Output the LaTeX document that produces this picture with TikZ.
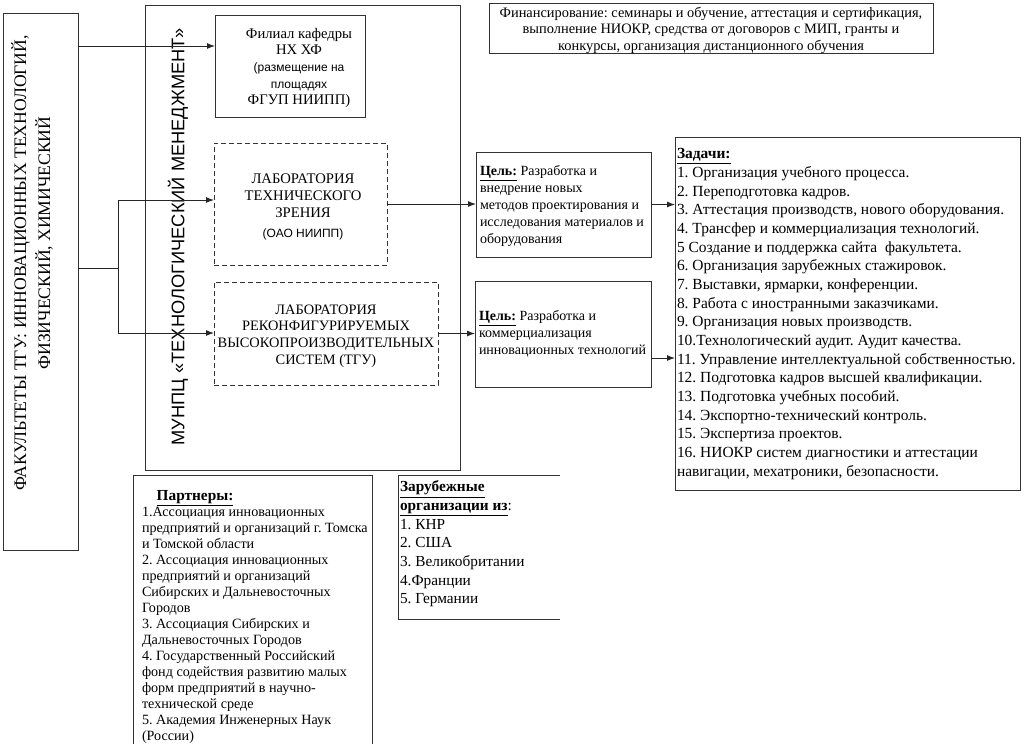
\documentclass[tikz,border=0pt]{standalone}
\usepackage{fontspec}
\setmainfont{Liberation Serif}
\setsansfont{Liberation Sans}
\usetikzlibrary{arrows.meta}
\tikzset{
  every node/.style={inner sep=0pt, outer sep=0pt},
  bx/.style={draw=black!80, line width=0.75pt},
  sz/.style 2 args={minimum width={#1*0.75pt}, minimum height={#2*0.75pt}},
  dsh/.style={dash pattern=on 3.5pt off 2.5pt},
  ln/.style={draw=black!85, line width=0.75pt},
  arr/.style={ln, -{Latex[length=6pt,width=4.5pt]}},
}
\begin{document}
\frenchspacing
\begin{tikzpicture}[x=0.75pt,y=-0.75pt]
\useasboundingbox (0,0) rectangle (1024,743);
\fill[white] (0,0) rectangle (1024,743);

% boxes
\node[bx, sz={75}{537}, anchor=north west] (fac) at (3,13) {};
\node[bx, sz={315}{465}, anchor=north west] (mun) at (145,5) {};
\node[bx, sz={150}{102}, anchor=north west] (filial) at (215,15) {};
\node[bx, dsh, sz={173}{122}, anchor=north west] (lab1) at (214,143) {};
\node[bx, dsh, sz={224}{103}, anchor=north west] (lab2) at (214,282) {};
\node[bx, sz={444}{50}, anchor=north west] (fin) at (489,3) {};
\node[bx, sz={175}{105}, anchor=north west] (goal1) at (476,152) {};
\node[bx, sz={176}{106}, anchor=north west] (goal2) at (475,281) {};
\node[bx, sz={345}{353}, anchor=north west] (tasks) at (675,137) {};
\node[bx, sz={239}{269}, anchor=north west] (partners) at (133,475) {};
\draw[bx] (560,475) -- (398,475) -- (398,619) -- (560,619);

% texts
\node[rotate=90, align=center, font=\fontsize{13.2}{18}\selectfont] (factxt) at (32,263)
  {ФАКУЛЬТЕТЫ ТГУ: ИННОВАЦИОННЫХ ТЕХНОЛОГИЙ,\\\hspace*{30pt}ФИЗИЧЕСКИЙ, ХИМИЧЕСКИЙ};
\node[rotate=90, font=\sffamily\fontsize{13.7}{16}\selectfont] (muntxt) at (178,237)
  {МУНПЦ «ТЕХНОЛОГИЧЕСКИЙ МЕНЕДЖМЕНТ»};
\node[align=center, font=\fontsize{11}{12.5}\selectfont] (filtxt) at (299,68)
  {Филиал кафедры\\НХ ХФ\\{\sffamily\fontsize{9}{12.5}\selectfont (размещение на}\\{\sffamily\fontsize{9}{12.5}\selectfont площадях}\\ФГУП НИИПП)};
\node[align=center, font=\fontsize{11}{12.75}\selectfont] (lab1txt) at (303,207)
  {ЛАБОРАТОРИЯ\\ТЕХНИЧЕСКОГО\\ЗРЕНИЯ\\[2pt]{\sffamily\fontsize{9}{11}\selectfont (ОАО НИИПП)}};
\node[align=center, font=\fontsize{10.8}{12.5}\selectfont] (lab2txt) at (326,336)
  {ЛАБОРАТОРИЯ\\РЕКОНФИГУРИРУЕМЫХ\\ВЫСОКОПРОИЗВОДИТЕЛЬНЫХ\\СИСТЕМ (ТГУ)};
\node[align=center, font=\fontsize{10.8}{12.4}\selectfont] (fintxt) at (711,30)
  {Финансирование: семинары и обучение, аттестация и сертификация,\\выполнение НИОКР, средства от договоров с МИП, гранты и\\конкурсы, организация дистанционного обучения};
\node[anchor=west, align=left, font=\fontsize{10.5}{12.75}\selectfont] (g1txt) at (480,206)
  {\underline{\textbf{Цель:}} Разработка и\\внедрение новых\\методов проектирования и\\исследования материалов и\\оборудования};
\node[anchor=west, align=left, font=\fontsize{10.5}{12.75}\selectfont] (g2txt) at (479,334)
  {\underline{\textbf{Цель:}} Разработка и\\коммерциализация\\инновационных технологий};
\node[anchor=west, align=left, font=\fontsize{11.6}{14}\selectfont] (tasktxt) at (677,314)
  {\underline{\textbf{Задачи:}}\\
   1. Организация учебного процесса.\\
   2. Переподготовка кадров.\\
   3. Аттестация производств, нового оборудования.\\
   4. Трансфер и коммерциализация технологий.\\
   5 Создание и поддержка сайта\ \ факультета.\\
   6. Организация зарубежных стажировок.\\
   7. Выставки, ярмарки, конференции.\\
   8. Работа с иностранными заказчиками.\\
   9. Организация новых производств.\\
   10.Технологический аудит. Аудит качества.\\
   11. Управление интеллектуальной собственностью.\\
   12. Подготовка кадров высшей квалификации.\\
   13. Подготовка учебных пособий.\\
   14. Экспортно-технический контроль.\\
   15. Экспертиза проектов.\\
   16. НИОКР систем диагностики и аттестации\\
   навигации, мехатроники, безопасности.};
\node[anchor=west, align=left, font=\fontsize{10.6}{12}\selectfont] (parttxt) at (142,617)
  {\hspace*{11pt}{\fontsize{11.5}{12}\selectfont\underline{\textbf{Партнеры:}}}\\
   1.Ассоциация инновационных\\
   предприятий и организаций г. Томска\\
   и Томской области\\
   2. Ассоциация инновационных\\
   предприятий и организаций\\
   Сибирских и Дальневосточных\\
   Городов\\
   3. Ассоциация Сибирских и\\
   Дальневосточных Городов\\
   4. Государственный Российский\\
   фонд содействия развитию малых\\
   форм предприятий в научно-\\
   технической среде\\
   5. Академия Инженерных Наук\\
   (России)};
\node[anchor=west, align=left, font=\fontsize{11.5}{14}\selectfont] (fortxt) at (400,544)
  {\underline{\textbf{Зарубежные}}\\
   \underline{\textbf{организации из}}:\\
   1. КНР\\
   2. США\\
   3. Великобритании\\
   4.Франции\\
   5. Германии};

% connectors
\coordinate (ya) at (0,46);
\coordinate (bus) at (118,268);
\coordinate (bt) at (118,200);
\coordinate (bb) at (118,333);
\coordinate (yb) at (0,358);
\draw[arr] (fac.east |- ya) -- (filial.west |- ya);
\draw[ln] (fac.east |- bus) -- (bus);
\draw[ln] (bt) -- (bb);
\draw[arr] (bt) -- (lab1.west |- bt);
\draw[arr] (bb) -- (lab2.west |- bb);
\draw[arr] (lab1.east) -- (lab1.east -| goal1.west);
\draw[arr] (goal1.east) -- (goal1.east -| tasks.west);
\draw[arr] (lab2.east) -- (lab2.east -| goal2.west);
\draw[arr] (goal2.east |- yb) -- (tasks.west |- yb);
\end{tikzpicture}
\end{document}
